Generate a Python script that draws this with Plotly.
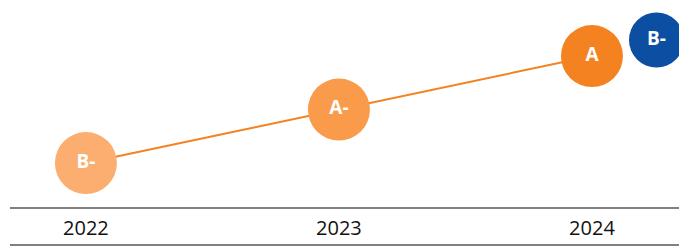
import plotly.graph_objects as go

years = [2022, 2023, 2024]
ratings = ["B-", "A-", "A"]
rating_level = [1, 2, 3]
point_colors = ["#FBAE6F", "#F99B4B", "#F58220"]

bench_x = [2024.255]
bench_level = [3.3]
bench_label = ["B-"]

fig = go.Figure()
fig.add_trace(go.Scatter(
    x=years, y=rating_level, mode="lines+markers+text",
    text=ratings, textposition="middle center",
    textfont=dict(color="white", size=19, family="Open Sans", weight="bold"),
    line=dict(color="#F58220", width=2),
    marker=dict(size=62, color=point_colors, line=dict(width=0)),
    hoverinfo="skip", showlegend=False, cliponaxis=False,
))
fig.add_trace(go.Scatter(
    x=bench_x, y=bench_level, mode="markers+text",
    text=bench_label, textposition="middle center",
    textfont=dict(color="white", size=19, family="Open Sans", weight="bold"),
    marker=dict(size=55, color="#0B4EA2", line=dict(width=0)),
    hoverinfo="skip", showlegend=False, cliponaxis=False,
))
fig.update_layout(
    width=679, height=246,
    margin=dict(l=10, r=0, t=0, b=39, autoexpand=False),
    paper_bgcolor="white", plot_bgcolor="white",
    font=dict(family="Open Sans", color="#111111"),
    xaxis=dict(range=[2021.70, 2024.344], tickvals=years, ticktext=[str(y) for y in years],
               showgrid=False, zeroline=False, showline=True, linecolor="#808080", linewidth=2,
               tickfont=dict(size=20, color="#111111"), ticks="outside", ticklen=2,
               tickcolor="rgba(0,0,0,0)", fixedrange=True, automargin=False),
    yaxis=dict(range=[0.178, 4.047], visible=False, fixedrange=True, automargin=False),
    shapes=[dict(type="line", xref="paper", yref="paper", x0=0, x1=1, y0=-38/207, y1=-38/207,
                 line=dict(color="#808080", width=2))],
)
fig.write_html(
    "out.html",
    config={"displayModeBar": False, "staticPlot": True},
    post_script="document.body.style.margin='0';document.body.style.overflow='hidden';",
)
